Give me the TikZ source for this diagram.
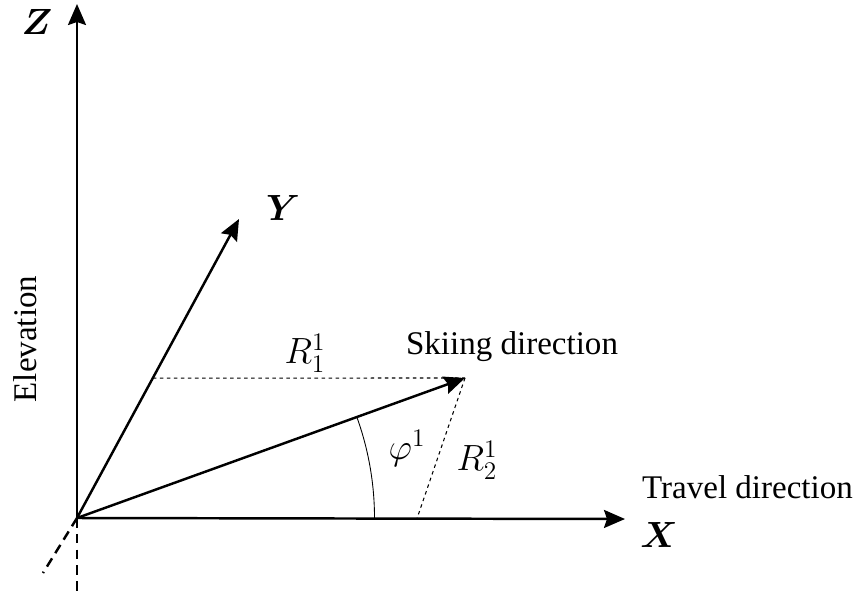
\documentclass[tikz,border=0pt]{standalone}
\usepackage{amsmath}
\usepackage{bm}
\usepackage{fontspec}
\setmainfont{Liberation Serif}
\usepackage{tikz}
\usetikzlibrary{arrows.meta}
\usetikzlibrary{calc}

\begin{document}
\begin{tikzpicture}[line width=0.4mm,
  axis/.style={line width=1.4pt,-{Stealth[length=4.2mm,width=3.6mm,inset=0.6mm]}},
  guide/.style={line width=0.6pt,dash pattern=on 2pt off 2pt},
  below/.style={line width=1.4pt,dash pattern=on 5.5pt off 3.5pt},
  lbl/.style={font=\fontsize{18.8}{22}\selectfont,inner sep=0pt},
  mlbl/.style={font=\fontsize{20.5}{24}\selectfont,inner sep=0pt}]
\useasboundingbox (-1.54,-1.58) rectangle (15.62,10.36);

\coordinate (O) at (0,0);
\coordinate (Ztip) at (0,10.28);
\coordinate (Xtip) at (10.96,-0.02);
\coordinate (Ytip) at (3.24,5.98);
\coordinate (Stip) at (7.76,2.8);
\coordinate (Rfoot) at ($(O)!0.468!(Ytip)$);
\coordinate (Xfoot) at (6.8,-0.01);
\coordinate (Dleft) at (-0.68,-1.1);
\coordinate (Ddown) at (0,-1.5);

%axes
\draw[axis] (O) -- (Ztip);
\draw[axis] (O) -- (Xtip);
\draw[axis] (O) -- (Ytip);
\draw[axis] (O) -- (Stip);

%below the origin
\draw[below] (O) -- (Dleft);
\draw[below] (O) -- (Ddown);

%projections
\draw[guide] (Rfoot) -- (Stip);
\draw[guide] (Stip) -- (Xfoot);
\draw[line width=0.5pt] (5.95,0) arc[start angle=0, end angle=19.8, radius=5.95];

%labels
\node[mlbl] (zlab) at (-0.8,9.92) {$\bm{Z}$};
\node[mlbl] (ylab) at (4.12,6.2) {$\bm{Y}$};
\node[mlbl] (xlab) at (11.64,-0.34) {$\bm{X}$};
\node[lbl,rotate=90] (elev) at (-1.04,3.58) {Elevation};
\node[mlbl] (r1) at (4.56,3.3) {$R_1^1$};
\node[lbl] (ski) at (8.7,3.42) {Skiing direction};
\node[mlbl] (phi) at (6.6,1.4) {$\varphi^1$};
\node[mlbl] (r2) at (8.0,1.16) {$R_2^1$};
\node[lbl] (travel) at (13.41,0.62) {Travel direction};

\end{tikzpicture}
\end{document}
